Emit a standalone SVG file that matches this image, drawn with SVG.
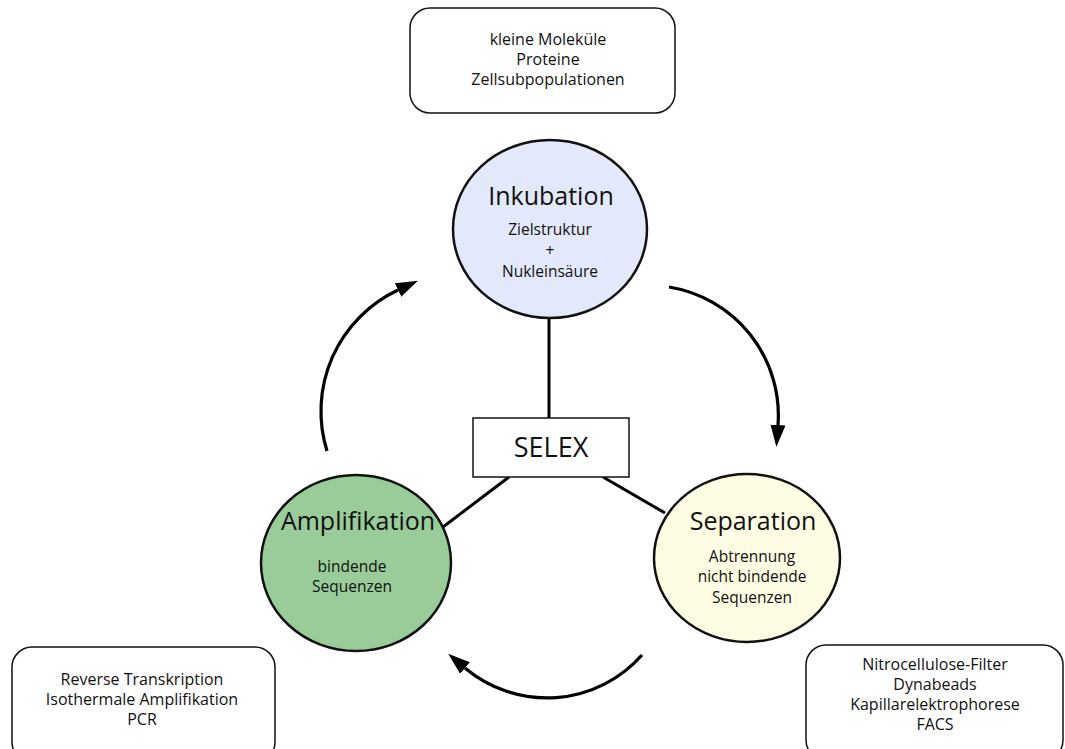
<svg xmlns="http://www.w3.org/2000/svg" width="1065" height="749" viewBox="0 0 1065 749">
<style>
text{font-family:"Open Sans","Noto Sans","Liberation Sans",sans-serif;fill:#111;text-anchor:middle}
.box{fill:#fff;stroke:#111;stroke-width:1.5}
.node{stroke:#111;stroke-width:2.5}
.t{font-size:25px}
.s{font-size:15.5px}
.b{font-size:16px}
.link{stroke:#000;stroke-width:3;fill:none}
.arc{stroke:#000;stroke-width:3.2;fill:none;marker-end:url(#ah)}
</style>
<defs>
<marker id="ah" markerUnits="userSpaceOnUse" viewBox="0 -8 24 16" refX="0" refY="0" markerWidth="24" markerHeight="16" orient="auto">
<path d="M0,-7.5 L22,0 L0,7.5 z" fill="#000"/>
</marker>
</defs>
<g id="connectors">
<line class="link" x1="549" y1="318" x2="549" y2="418"/>
<line class="link" x1="509" y1="477" x2="443" y2="527"/>
<line class="link" x1="603" y1="477" x2="665" y2="513"/>
<path class="arc" d="M327,451 A134,134 0 0,1 398,290"/>
<path class="arc" d="M669,287 A130,130 0 0,1 778,425"/>
<path class="arc" d="M642,655 A127,127 0 0,1 465,668"/>
</g>
<g id="targets">
<rect class="box" x="410" y="8" width="265" height="105" rx="20"/>
<text class="b" x="548" y="45">kleine Moleküle</text>
<text class="b" x="548" y="65">Proteine</text>
<text class="b" x="548" y="85">Zellsubpopulationen</text>
</g>
<g id="inkubation">
<ellipse class="node" cx="550" cy="229" rx="97" ry="89" fill="#e3e8fb"/>
<text class="t" x="551" y="205">Inkubation</text>
<text class="s" x="550" y="235">Zielstruktur</text>
<text class="s" x="550" y="256">+</text>
<text class="s" x="550" y="277">Nukleinsäure</text>
</g>
<g id="selex">
<rect x="473" y="418" width="156" height="59" fill="#fff" stroke="#111" stroke-width="1.5"/>
<text x="551" y="457" style="font-size:27px">SELEX</text>
</g>
<g id="amplifikation">
<ellipse class="node" cx="356" cy="563" rx="95" ry="88" fill="#99cc99"/>
<text class="t" x="358" y="530">Amplifikation</text>
<text class="s" x="352" y="572">bindende</text>
<text class="s" x="352" y="592">Sequenzen</text>
</g>
<g id="separation">
<ellipse class="node" cx="747" cy="558" rx="93" ry="84" fill="#fefde3"/>
<text class="t" x="753" y="530">Separation</text>
<text class="s" x="752" y="562">Abtrennung</text>
<text class="s" x="752" y="582">nicht bindende</text>
<text class="s" x="752" y="603">Sequenzen</text>
</g>
<g id="amp-methods">
<rect class="box" x="12" y="647" width="263" height="115" rx="20"/>
<text class="b" x="142" y="685">Reverse Transkription</text>
<text class="b" x="142" y="705">Isothermale Amplifikation</text>
<text class="b" x="142" y="725">PCR</text>
</g>
<g id="sep-methods">
<rect class="box" x="806" y="645" width="257" height="115" rx="20"/>
<text class="b" x="935" y="670">Nitrocellulose-Filter</text>
<text class="b" x="935" y="690">Dynabeads</text>
<text class="b" x="935" y="710">Kapillarelektrophorese</text>
<text class="b" x="935" y="730">FACS</text>
</g>
</svg>
